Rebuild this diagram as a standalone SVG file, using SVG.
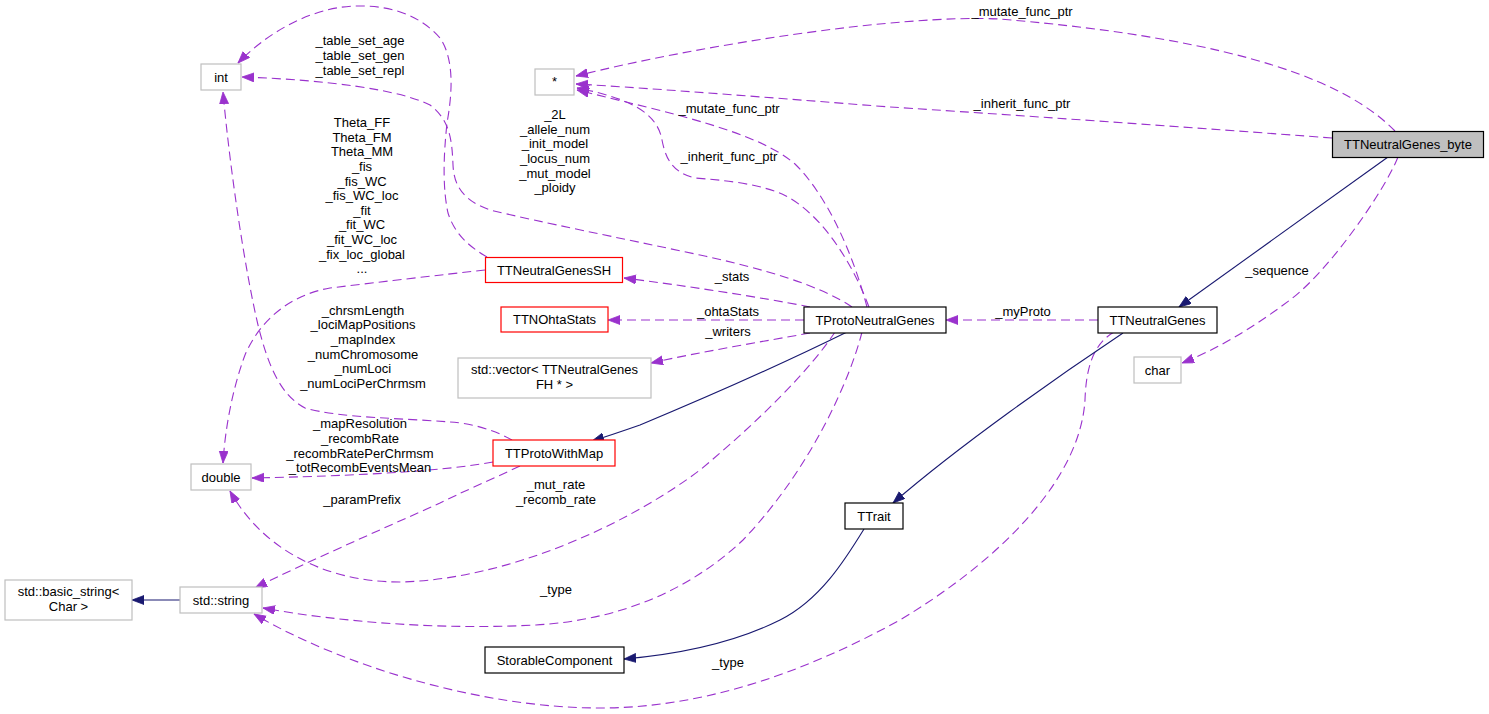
<svg xmlns="http://www.w3.org/2000/svg" width="1489" height="714" viewBox="0 0 1489 714">
<style>
text{font-family:"Liberation Sans",Arial,sans-serif;font-size:13px;fill:#000;text-anchor:middle}
.n rect{fill:#fff;stroke-width:1.2}
.k rect{stroke:#000}
.g rect{stroke:#bfbfbf}
.r rect{stroke:#ff0000}
.d{fill:none;stroke:#9a32cd;stroke-width:1.1;stroke-dasharray:9,5;marker-end:url(#ap)}
.s{fill:none;stroke:#191970;stroke-width:1.1;marker-end:url(#an)}
</style>
<defs>
<marker id="ap" markerUnits="userSpaceOnUse" markerWidth="13" markerHeight="10" refX="12" refY="4.5" orient="auto"><path d="M0,0 L12,4.5 L0,9 z" fill="#9a32cd" stroke="#9a32cd" stroke-width="0.8"/></marker>
<marker id="an" markerUnits="userSpaceOnUse" markerWidth="13" markerHeight="10" refX="12" refY="4.5" orient="auto"><path d="M0,0 L12,4.5 L0,9 z" fill="#191970" stroke="#191970" stroke-width="0.8"/></marker>
</defs>
<rect width="1489" height="714" fill="#fff"/>
<g id="edges">
<path class="d" d="M1395,131 C1350,85 1250,40 1000,19 C900,14 700,45 576,76"/>
<text x="1022" y="16">_mutate_func_ptr</text>
<path class="d" d="M1332,138 C1200,128 1000,114 890,107 C800,100 650,88 576,84"/>
<text x="1022" y="108">_inherit_func_ptr</text>
<path class="d" d="M867,307 C852,250 826,195 796,165 C760,132 670,113 577,90"/>
<text x="729" y="113">_mutate_func_ptr</text>
<path class="d" d="M869,307 C852,262 822,215 786,196 C760,183 720,180 695,178 C670,172 665,155 662,140 C658,118 640,100 577,88"/>
<text x="729" y="161">_inherit_func_ptr</text>
<path class="d" d="M852,307 C820,285 760,268 700,255 C620,238 540,222 490,210 C462,200 454,185 453,165 C452,140 450,120 430,105 C400,90 330,80 242,77"/>
<text x="555" y="119">_2L</text>
<text x="555" y="133.5">_allele_num</text>
<text x="555" y="148">_init_model</text>
<text x="555" y="163">_locus_num</text>
<text x="555" y="177.5">_mut_model</text>
<text x="555" y="192">_ploidy</text>
<path class="d" d="M487,257 C470,247 455,235 448,213 C443,190 443,160 447,123 C452,95 455,60 440,38 C420,15 390,5 355,6 C320,7 275,25 238,63"/>
<text x="360" y="45">_table_set_age</text>
<text x="360" y="60">_table_set_gen</text>
<text x="360" y="75">_table_set_repl</text>
<path class="d" d="M485,270 C440,275 380,282 330,288 C290,295 260,320 245,355 C232,390 225,430 223,463"/>
<text x="362" y="127">Theta_FF</text>
<text x="362" y="141.5">Theta_FM</text>
<text x="362" y="156">Theta_MM</text>
<text x="362" y="171">_fis</text>
<text x="362" y="185.5">_fis_WC</text>
<text x="362" y="200">_fis_WC_loc</text>
<text x="362" y="214.5">_fit</text>
<text x="362" y="229">_fit_WC</text>
<text x="362" y="243.5">_fit_WC_loc</text>
<text x="362" y="258.5">_fix_loc_global</text>
<text x="362" y="273">...</text>
<path class="d" d="M512,440 C495,430 470,423 450,422 C400,418 340,418 305,408 C280,395 268,365 258,325 C245,270 230,170 223,92"/>
<text x="363" y="315">_chrsmLength</text>
<text x="363" y="329">_lociMapPositions</text>
<text x="363" y="344">_mapIndex</text>
<text x="363" y="358.5">_numChromosome</text>
<text x="363" y="373">_numLoci</text>
<text x="363" y="388">_numLociPerChrmsm</text>
<path class="d" d="M493,462 C460,468 400,475 252,478"/>
<text x="360" y="428">_mapResolution</text>
<text x="360" y="443">_recombRate</text>
<text x="360" y="457.5">_recombRatePerChrmsm</text>
<text x="360" y="472">_totRecombEventsMean</text>
<path class="d" d="M520,466 C490,480 460,493 440,503 C380,530 300,565 255,588"/>
<text x="362" y="504">_paramPrefix</text>
<path class="d" d="M835,332 C810,370 760,420 700,470 C620,530 500,580 400,582 C320,582 260,545 230,491"/>
<text x="556" y="489">_mut_rate</text>
<text x="556" y="503.5">_recomb_rate</text>
<path class="d" d="M862,332 C850,380 810,470 743,540 C690,590 620,620 536,625 C440,630 340,622 263,608"/>
<text x="556" y="594">_type</text>
<path class="d" d="M1114,332 C1092,345 1086,370 1085,400 C1080,480 1000,560 900,620 C800,675 700,708 600,708 C480,708 340,665 254,614"/>
<text x="728" y="667">_type</text>
<path class="s" d="M847,332 C780,365 700,400 640,425 C620,432 605,437 592,441"/>
<path class="d" d="M810,307 C760,297 680,285 624,278"/>
<text x="732" y="281">_stats</text>
<path class="d" d="M804,320 L608,320"/>
<text x="728" y="316">_ohtaStats</text>
<path class="d" d="M810,333 C760,342 700,352 651,363"/>
<text x="728" y="335.5">_writers</text>
<path class="d" d="M1098,320 L946,320"/>
<text x="1023" y="316">_myProto</text>
<path class="s" d="M1388,157 L1179,307"/>
<path class="d" d="M1398,157 C1385,190 1330,270 1290,300 C1250,330 1215,350 1182,363"/>
<text x="1277" y="275">_sequence</text>
<path class="s" d="M1123,333 C1060,375 960,445 893,503"/>
<path class="s" d="M864,529 C845,560 820,600 780,620 C730,645 670,655 624,659"/>
<path class="s" d="M180,600 L132,600"/>
</g>
<g id="int" class="n g"><rect x="201" y="64" width="40" height="26"/><text x="221" y="81.5">int</text></g>
<g id="ptr" class="n g"><rect x="535" y="69" width="39" height="26"/><text x="554.5" y="86">*</text></g>
<g id="TTNeutralGenes_byte" class="n k"><rect x="1332.5" y="131.5" width="151" height="26" style="fill:#bfbfbf"/><text x="1408" y="148.5">TTNeutralGenes_byte</text></g>
<g id="TTNeutralGenesSH" class="n r"><rect x="485.5" y="257.5" width="137" height="25"/><text x="554" y="274.5">TTNeutralGenesSH</text></g>
<g id="TTNOhtaStats" class="n r"><rect x="501" y="307" width="107" height="25"/><text x="554.5" y="324">TTNOhtaStats</text></g>
<g id="vector" class="n g"><rect x="458" y="358" width="193" height="40"/><text x="554.5" y="374">std::vector&lt; TTNeutralGenes</text><text x="554.5" y="389">FH * &gt;</text></g>
<g id="TTProtoWithMap" class="n r"><rect x="493" y="440" width="122" height="26"/><text x="554" y="457.5">TTProtoWithMap</text></g>
<g id="TProtoNeutralGenes" class="n k"><rect x="804" y="307" width="142" height="26"/><text x="875" y="324.5">TProtoNeutralGenes</text></g>
<g id="TTNeutralGenes" class="n k"><rect x="1098" y="307" width="119" height="26"/><text x="1157.5" y="324.5">TTNeutralGenes</text></g>
<g id="char" class="n g"><rect x="1134" y="357" width="47" height="26"/><text x="1157.5" y="374.5">char</text></g>
<g id="double" class="n g"><rect x="191" y="464" width="60" height="26"/><text x="221" y="481.5">double</text></g>
<g id="TTrait" class="n k"><rect x="845" y="503" width="58" height="26"/><text x="874" y="520.5">TTrait</text></g>
<g id="basic_string" class="n g"><rect x="5" y="580" width="127" height="40"/><text x="68.5" y="596">std::basic_string&lt;</text><text x="68.5" y="611">Char &gt;</text></g>
<g id="string" class="n g"><rect x="180" y="587" width="82" height="26"/><text x="221" y="604.5">std::string</text></g>
<g id="StorableComponent" class="n k"><rect x="485" y="647" width="139" height="26"/><text x="554.5" y="664.5">StorableComponent</text></g>
</svg>
